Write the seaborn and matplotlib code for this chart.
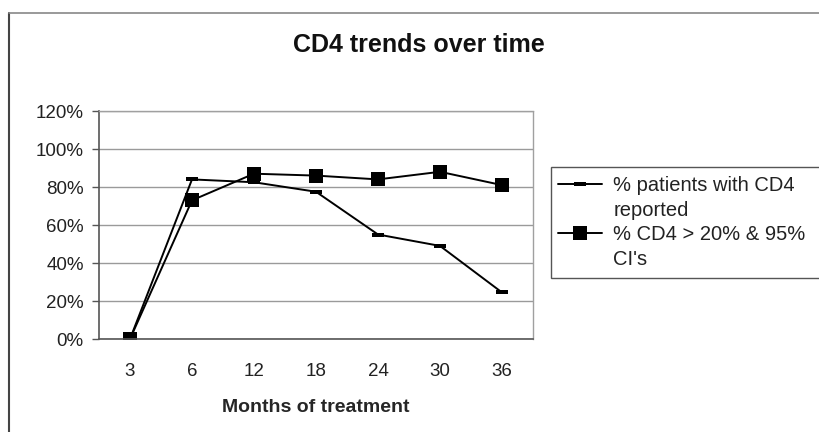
import matplotlib
matplotlib.use("Agg")
import matplotlib.pyplot as plt
import matplotlib.patches as mpatches
import matplotlib.lines as mlines
import numpy as np
import pandas as pd
import seaborn as sns

# Months on treatment and the two tracked percentages
months = ["3", "6", "12", "18", "24", "30", "36"]
pct_reported = [0.0, 84.0, 82.5, 77.5, 55.0, 49.0, 24.5]
pct_cd4_over_20 = [0.0, 73.0, 87.0, 86.0, 84.0, 88.0, 81.0]

label_reported = ["% patients with CD4", "reported"]
label_cd4 = ["% CD4 > 20% & 95%", "CI's"]

sns.set_theme(style="white")
plt.rcParams["font.family"] = ["Liberation Sans", "DejaVu Sans"]

df = pd.DataFrame({
    "month": months * 2,
    "value": pct_reported + pct_cd4_over_20,
    "series": ["reported"] * len(months) + ["cd4"] * len(months),
})

fig = plt.figure(figsize=(8.2, 4.32), dpi=100)
ax = fig.add_axes([99 / 820, 1 - 339 / 432, (533 - 99) / 820, (339 - 111) / 432])

# small flat dash used as the marker of the first series
dash = [(-1, -0.35), (1, -0.35), (1, 0.35), (-1, 0.35), (-1, -0.35)]

sns.lineplot(data=df[df.series == "reported"], x="month", y="value",
             color="black", lw=1.4, marker=dash, markersize=8,
             markeredgewidth=0, ax=ax, legend=False, sort=False)
sns.lineplot(data=df[df.series == "cd4"], x="month", y="value",
             color="black", lw=1.4, marker="s", markersize=10,
             markeredgewidth=0, ax=ax, legend=False, sort=False)

ax.set_xlim(-0.5, len(months) - 0.5)
ax.set_ylim(0, 120)
ax.set_yticks(np.arange(0, 121, 20))
ax.set_yticklabels([f"{v}%" for v in range(0, 121, 20)], fontsize=13.5, color="#222222")
ax.set_xticks(range(len(months)))
ax.set_xticklabels(months, fontsize=13.5, color="#222222")
ax.set_xticks(np.arange(-0.5, len(months), 1.0), minor=True)
ax.tick_params(axis="x", which="major", length=0, pad=17)
ax.tick_params(axis="x", which="minor", length=5, width=1, color="#555555", direction="out")
ax.tick_params(axis="y", length=5, width=1, color="#555555", direction="out", left=True, pad=6)

ax.yaxis.grid(True, color="#9a9a9a", lw=1)
ax.set_axisbelow(True)
for side in ["top", "right"]:
    ax.spines[side].set_color("#a0a0a0")
    ax.spines[side].set_linestyle((0, (2, 1)))
    ax.spines[side].set_linewidth(1)
for side in ["left", "bottom"]:
    ax.spines[side].set_color("#555555")
    ax.spines[side].set_linewidth(1.2)

ax.set_xlabel("Months of treatment", fontsize=14, fontweight="bold", labelpad=14)
ax.set_ylabel("")

fig.text(419 / 820, 1 - 45 / 432, "CD4 trends over time", ha="center", va="center",
         fontsize=18, fontweight="bold", color="#111111")

# legend box at the right of the plot area, running off the right edge
fig.add_artist(mpatches.Rectangle((551 / 820, 1 - 278 / 432), 300 / 820, 111 / 432,
                                  transform=fig.transFigure, fill=True,
                                  facecolor="white", edgecolor="#555555", lw=1))
blank = mlines.Line2D([], [], color="none", lw=0)
handles = [
    mlines.Line2D([], [], color="black", lw=1.4, marker=dash, markersize=8, markeredgewidth=0),
    blank,
    mlines.Line2D([], [], color="black", lw=1.4, marker="s", markersize=10, markeredgewidth=0),
    blank,
]
labels = label_reported + label_cd4
leg = fig.legend(handles, labels, loc="upper left",
                 bbox_to_anchor=(558 / 820, 1 - 176 / 432), fontsize=14.5,
                 frameon=False, handlelength=2.2, handletextpad=0.55,
                 borderpad=0.0, labelspacing=0.28, borderaxespad=0)
for t in leg.get_texts():
    t.set_color("#222222")

# outer chart frame
fig.add_artist(mlines.Line2D([9 / 820, 9 / 820], [0, 1 - 13 / 432],
                             color="#444444", lw=1.5, transform=fig.transFigure))
fig.add_artist(mlines.Line2D([9 / 820, 1], [1 - 13 / 432, 1 - 13 / 432],
                             color="#888888", lw=1.2, transform=fig.transFigure))

fig.savefig("out.png", dpi=100)
